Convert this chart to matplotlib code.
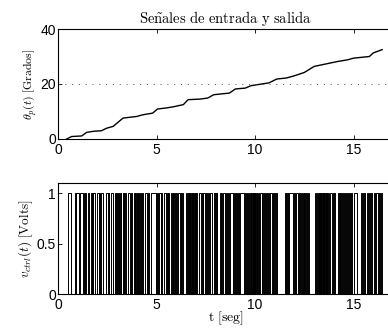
import matplotlib
matplotlib.use("Agg")
import matplotlib.pyplot as plt
import numpy as np

plt.rcParams['mathtext.fontset'] = 'cm'
plt.rcParams['font.family'] = ['Liberation Sans', 'DejaVu Sans']

# angulo medido (t [s], theta [grados])
t_theta = [0.44, 0.69, 1.2, 1.45, 1.8, 2.2, 2.46, 2.8, 3.3, 4.0, 4.3, 4.8, 5.05,
           5.5, 5.85, 6.36, 6.6, 7.2, 7.6, 7.9, 8.7, 9.0, 9.5, 9.8, 10.7, 11.1,
           11.6, 12.0, 12.5, 13.0, 13.6, 14.2, 14.7, 15.0, 15.8, 16.0, 16.45]
theta = [0.0, 0.9, 1.1, 2.4, 2.8, 3.0, 3.9, 4.6, 7.6, 8.2, 8.8, 9.4, 10.9,
         11.3, 11.7, 12.5, 14.3, 14.5, 14.9, 16.1, 16.7, 18.2, 18.5, 19.4, 20.4, 21.8,
         22.2, 23.0, 24.2, 26.4, 27.3, 28.2, 28.8, 29.4, 30.0, 31.3, 32.5]

# pulsos de control (inicio, fin) en segundos, nivel alto = 1 V
pulse_on = [0.49, 0.85, 0.92, 1.12, 1.32, 1.38, 1.51, 1.68, 1.74, 1.80, 1.96, 2.10, 2.20,
            2.44, 2.58, 2.69, 2.91, 2.98, 3.11, 3.18, 3.28, 3.34, 3.41, 3.54, 3.70, 3.87,
            3.93, 4.00, 4.08, 4.17, 4.27, 4.43, 4.57, 4.70, 5.01, 5.11, 5.24, 5.38, 5.53,
            5.59, 5.75, 5.82, 5.90, 6.01, 6.09, 6.22, 6.29, 6.52, 6.60, 6.66, 6.72, 6.78,
            6.84, 6.90, 6.96, 7.02, 7.14, 7.31, 7.38, 7.53, 7.61, 7.70, 7.92, 7.99, 8.06,
            8.21, 8.29, 8.37, 8.50, 8.65, 8.73, 8.94, 9.03, 9.15, 9.24, 9.49, 9.58, 9.70,
            9.78, 9.84, 9.90, 9.96, 10.02, 10.08, 10.16, 10.25, 10.37, 10.46, 10.55, 10.68,
            10.76, 10.89, 10.97, 11.06, 11.50, 11.59, 11.66, 11.72, 11.99, 12.08, 12.24,
            12.32, 12.42, 12.50, 12.60, 12.69, 13.06, 13.14, 13.22, 13.28, 13.34, 13.40,
            13.46, 13.52, 13.58, 13.64, 13.70, 13.82, 13.94, 14.01, 14.20, 14.29, 14.38,
            14.46, 14.55, 14.65, 14.75, 14.88, 15.01, 15.40, 15.48, 15.56, 15.69, 15.78,
            15.86, 16.02, 16.14, 16.31, 16.40]
pulse_off = [0.68, 0.89, 1.05, 1.29, 1.35, 1.42, 1.59, 1.71, 1.77, 1.86, 2.06, 2.13, 2.30,
             2.54, 2.61, 2.81, 2.94, 3.03, 3.14, 3.22, 3.31, 3.37, 3.45, 3.66, 3.76, 3.90,
             3.96, 4.04, 4.12, 4.20, 4.30, 4.54, 4.60, 4.99, 5.06, 5.21, 5.28, 5.50, 5.56,
             5.62, 5.78, 5.86, 5.96, 6.05, 6.18, 6.26, 6.35, 6.57, 6.63, 6.69, 6.75, 6.81,
             6.87, 6.93, 6.99, 7.07, 7.28, 7.35, 7.45, 7.58, 7.65, 7.82, 7.95, 8.03, 8.09,
             8.25, 8.33, 8.46, 8.56, 8.70, 8.90, 8.98, 9.07, 9.19, 9.44, 9.53, 9.66, 9.74,
             9.81, 9.87, 9.93, 9.99, 10.05, 10.12, 10.20, 10.34, 10.42, 10.50, 10.59, 10.71,
             10.85, 10.93, 11.02, 11.10, 11.55, 11.63, 11.69, 11.95, 12.03, 12.20, 12.28,
             12.37, 12.46, 12.55, 12.64, 12.76, 13.10, 13.18, 13.25, 13.31, 13.37, 13.43,
             13.49, 13.55, 13.61, 13.67, 13.76, 13.88, 13.99, 14.04, 14.25, 14.33, 14.42,
             14.50, 14.60, 14.70, 14.84, 14.92, 15.18, 15.44, 15.52, 15.60, 15.73, 15.82,
             15.94, 16.07, 16.24, 16.36, 16.44]

x_ticks = [0, 5, 10, 15]

# señal escalonada a partir de los pulsos
t_sig = [0.0]
v_sig = [0.0]
for a, b in zip(pulse_on, pulse_off):
    t_sig += [a, a, b, b]
    v_sig += [0, 1, 1, 0]
t_sig.append(17.0)
v_sig.append(0.0)

fig = plt.figure(figsize=(3.88, 3.33), dpi=100)
ax1 = fig.add_axes([0.1495, 0.5826, 0.8634, 0.3303])
ax2 = fig.add_axes([0.1495, 0.1171, 0.8634, 0.3333])

ax1.plot(t_theta, theta, color='k', linewidth=1.0)
ax1.axhline(20, color='0.3', linestyle=(0, (1, 6)), linewidth=0.7)
ax1.set_ylim(0, 40)
ax1.set_yticks([0, 20, 40])
ax1.set_title(r'$\mathrm{Se\tilde{n}ales\ de\ entrada\ y\ salida}$', fontsize=10.5, pad=4)
ax1.set_ylabel(r'$\theta_p(t)\ [\mathrm{Grados}]$', fontsize=8.5, labelpad=1)

ax2.plot(t_sig, v_sig, color='k', linewidth=0.7)
ax2.set_ylim(0, 1.1)
ax2.set_yticks([0, 0.5, 1])
ax2.set_yticklabels(['0', '0.5', '1'])
ax2.set_ylabel(r'$v_{ctrl}(t)\ [\mathrm{Volts}]$', fontsize=9.5, labelpad=1)
ax2.set_xlabel(r'$\mathrm{t\ [seg]}$', fontsize=10, labelpad=-2)

for ax in (ax1, ax2):
    ax.set_xlim(0, 17)
    ax.set_xticks(x_ticks)
    ax.tick_params(direction='in', length=3, width=0.6, labelsize=10,
                   top=True, right=True)
    ax.tick_params(axis='x', pad=3)
    ax.tick_params(axis='y', pad=1.5)
    for s in ax.spines.values():
        s.set_linewidth(0.8)

fig.savefig('out.png', dpi=100)
